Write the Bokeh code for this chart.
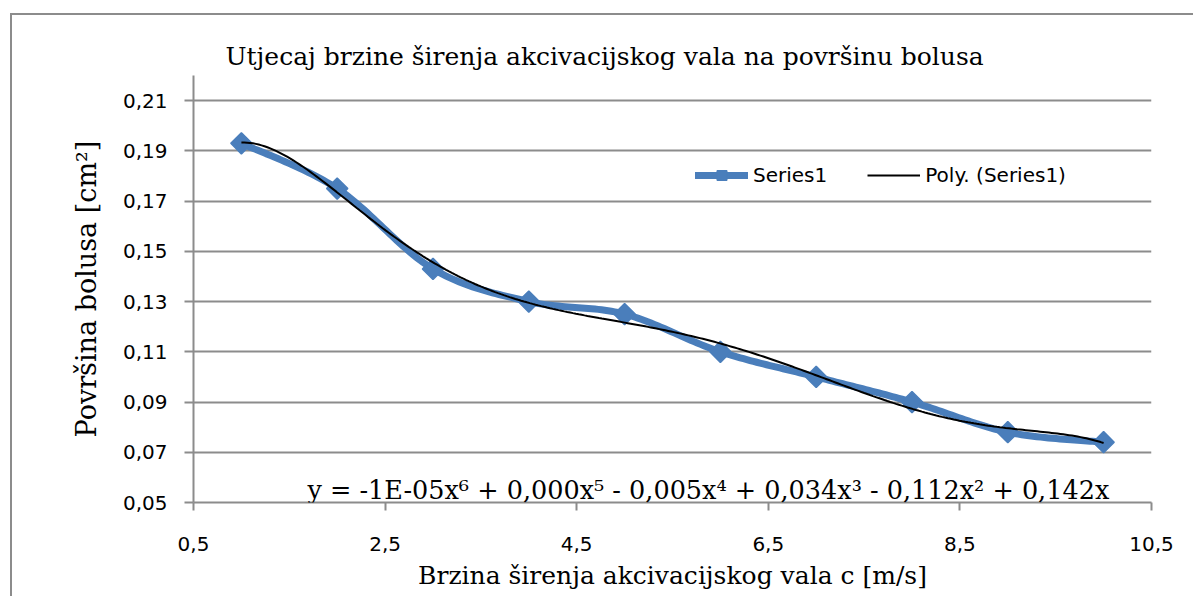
import numpy as np
from bokeh.plotting import figure
from bokeh.models import (Range1d, FixedTicker, CustomJSTickFormatter, Legend,
                          LegendItem, Label, InlineStyleSheet)
from bokeh.embed import file_html
from bokeh.resources import INLINE

# ---- data ----
x_vals = [1, 2, 3, 4, 5, 6, 7, 8, 9, 10]
y_vals = [0.193, 0.175, 0.143, 0.130, 0.125, 0.110, 0.100, 0.090, 0.078, 0.074]
x_ticks = [0.5, 2.5, 4.5, 6.5, 8.5, 10.5]
y_ticks = [0.05, 0.07, 0.09, 0.11, 0.13, 0.15, 0.17, 0.19, 0.21]
title_text = "Utjecaj brzine širenja akcivacijskog vala na površinu bolusa"
x_title = "Brzina širenja akcivacijskog vala c [m/s]"
y_title = "Površina bolusa [cm²]"
equation = "y = -1E-05x⁶ + 0,000x⁵ - 0,005x⁴ + 0,034x³ - 0,112x² + 0,142x"
series_name = "Series1"
trend_name = "Poly. (Series1)"

BLUE = "#4a7ebb"
GRAY = "#8c8c8c"
TEXT = "black"
SERIF = "DejaVu Serif"
SANS = "DejaVu Sans"

# smooth (Excel-like) curve through the points: Catmull-Rom bezier
xs = np.array(x_vals, float)
ys = np.array(y_vals, float)
n = len(xs)
sx, sy = [], []
t = np.linspace(0, 1, 30)
for i in range(n - 1):
    p0 = np.array([xs[max(i - 1, 0)], ys[max(i - 1, 0)]])
    p1 = np.array([xs[i], ys[i]])
    p2 = np.array([xs[i + 1], ys[i + 1]])
    p3 = np.array([xs[min(i + 2, n - 1)], ys[min(i + 2, n - 1)]])
    c1 = p1 + (p2 - p0) / 6.0
    c2 = p2 - (p3 - p1) / 6.0
    for tt in (t if i == 0 else t[1:]):
        b = ((1 - tt) ** 3) * p1 + 3 * ((1 - tt) ** 2) * tt * c1 + 3 * (1 - tt) * tt ** 2 * c2 + tt ** 3 * p2
        sx.append(b[0]); sy.append(b[1])

# polynomial trend (degree 6)
coef = np.polyfit(xs, ys, 6)
tx = np.linspace(xs.min(), xs.max(), 300)
ty = np.polyval(coef, tx)

border_css = InlineStyleSheet(css="""
:host { position: relative; }
:host::after {
  content: "";
  position: absolute;
  left: 10px; top: 13px; right: -20px; bottom: -20px;
  border-left: 2px solid #8c8c8c;
  border-top: 2px solid #8c8c8c;
  pointer-events: none;
  z-index: 10;
}
""")

p = figure(width=1193, height=596, output_backend="svg", toolbar_location=None,
           x_range=Range1d(0.5, 10.5), y_range=Range1d(0.05, 0.22),
           min_border_left=193, min_border_right=42, min_border_top=75,
           min_border_bottom=94, stylesheets=[border_css])
p.outline_line_color = None
p.background_fill_color = "white"
p.border_fill_color = "white"

# title
p.title.text = title_text
p.title.text_font = SERIF
p.title.text_font_size = "25px"
p.title.text_font_style = "normal"
p.title.text_color = TEXT
p.title.align = "left"
p.title.offset = 32
p.title.standoff = 9

fmt = CustomJSTickFormatter(code="""
    const s = tick.toFixed(2);
    return (Math.abs(tick*10 - Math.round(tick*10)) < 1e-9 ? tick.toFixed(1) : s).replace('.', ',');
""")

# x axis
xa = p.xaxis[0]
xa.ticker = FixedTicker(ticks=x_ticks)
xa.formatter = fmt
xa.axis_label = x_title
xa.axis_label_text_font = SERIF
xa.axis_label_text_font_size = "25px"
xa.axis_label_text_font_style = "normal"
xa.axis_label_text_color = TEXT
xa.axis_label_standoff = 7
xa.major_label_text_font = SANS
xa.major_label_text_font_size = "20px"
xa.major_label_text_color = TEXT
xa.major_label_standoff = 26
xa.axis_line_color = GRAY
xa.axis_line_width = 2
xa.major_tick_line_color = GRAY
xa.major_tick_line_width = 2
xa.major_tick_in = 0
xa.major_tick_out = 8
xa.minor_tick_line_color = None

# y axis
ya = p.yaxis[0]
ya.ticker = FixedTicker(ticks=y_ticks)
ya.formatter = fmt
ya.axis_label = y_title
ya.axis_label_text_font = SERIF
ya.axis_label_text_font_size = "27px"
ya.axis_label_text_font_style = "normal"
ya.axis_label_text_color = TEXT
ya.axis_label_standoff = 18
ya.major_label_text_font = SANS
ya.major_label_text_font_size = "20px"
ya.major_label_text_color = TEXT
ya.major_label_standoff = 17
ya.axis_line_color = GRAY
ya.axis_line_width = 2
ya.major_tick_line_color = GRAY
ya.major_tick_line_width = 2
ya.major_tick_in = 0
ya.major_tick_out = 9
ya.minor_tick_line_color = None

p.xgrid.grid_line_color = None
p.ygrid.ticker = FixedTicker(ticks=y_ticks)
p.ygrid.grid_line_color = GRAY
p.ygrid.grid_line_width = 2

# series
r_line = p.line(sx, sy, line_color=BLUE, line_width=7, line_cap="round", line_join="round")
r_pts = p.scatter(x_vals, y_vals, marker="square", angle=np.pi / 4, size=15,
                  fill_color=BLUE, line_color=BLUE, line_width=1.5)
r_trend = p.line(tx, ty, line_color="black", line_width=2)

legend = Legend(items=[LegendItem(label=series_name, renderers=[r_line, r_pts]),
                       LegendItem(label=trend_name, renderers=[r_trend])],
                orientation="horizontal", location=(502, 315),
                border_line_color=None, background_fill_alpha=0,
                label_text_font=SANS, label_text_font_size="20px",
                label_text_color=TEXT,
                glyph_width=53, glyph_height=24, label_height=24,
                spacing=40, padding=0, margin=0, label_standoff=5)
p.add_layout(legend)

eq = Label(x=1.69, y=0.0548, text=equation, text_font=SERIF, text_font_size="25.5px",
           text_color=TEXT, text_baseline="alphabetic", text_align="left")
p.add_layout(eq)

open("out.html", "w").write(file_html(p, INLINE))
